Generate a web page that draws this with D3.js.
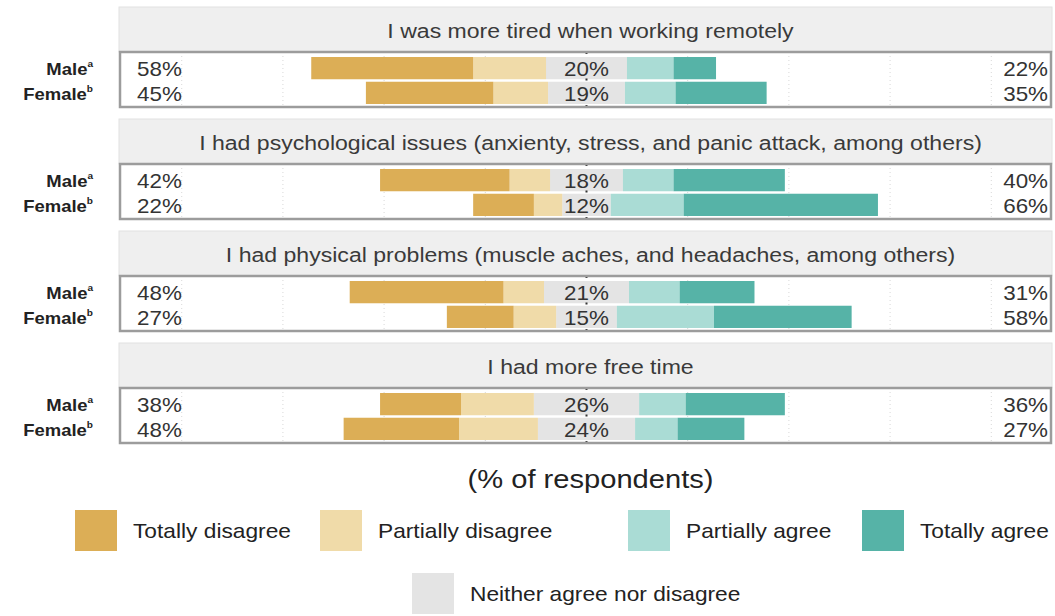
<!DOCTYPE html>
<html><head><meta charset="utf-8">
<script src="https://cdn.jsdelivr.net/npm/d3@7"></script>
<style>
html,body{margin:0;padding:0;background:#fff;}
svg{display:block;font-family:"Liberation Sans",Arial,sans-serif;}
</style></head>
<body>
<svg id="chart" width="1055" height="616"></svg>
<script>
// ---------- data ----------
const items = [
  "I was more tired when working remotely",
  "I had psychological issues (anxienty, stress, and panic attack, among others)",
  "I had physical problems (muscle aches, and headaches, among others)",
  "I had more free time"
];
const groups = ["Male", "Female"];
const groupSup = ["a", "b"];
// values ordered: item1 Male, item1 Female, item2 Male, item2 Female, ...
const totallyDisagree  = [40, 31.5, 32, 15, 38, 16.5, 20, 28.5];
const partiallyDisagree= [18, 13.5, 10, 7, 10, 10.5, 18, 19.5];
const neutral          = [20, 19, 18, 12, 21, 15, 26, 24];
const partiallyAgree   = [11.5, 12.5, 12.5, 18, 12.5, 24, 11.5, 10.5];
const totallyAgree     = [10.5, 22.5, 27.5, 48, 18.5, 34, 24.5, 16.5];
const categories = ["Totally disagree","Partially disagree","Neither agree nor disagree","Partially agree","Totally agree"];
const colors = ["#dcae56","#f0dba9","#e4e4e4","#aadcd5","#56b3a7"];
const gridTicks = [-100,-75,-50,-25,0,25,50,75,100];
const axisTitle = "(% of respondents)";

// ---------- layout ----------
const SX = 1.12; // horizontal text stretch
const svg = d3.select("#chart");
const x = d3.scaleLinear().domain([-115,115]).range([121,1052]);
const color = d3.scaleOrdinal().domain(categories).range(colors);
const panelTop = i => 7 + 112*i;
const stripH = 45, frameH = 55;

function stext(g, px, py, str, size, anchor, opts={}) {
  const t = g.append("text")
    .attr("transform", `translate(${px},${py}) scale(${SX},1)`)
    .attr("text-anchor", anchor)
    .attr("dominant-baseline", "central")
    .attr("font-size", size)
    .attr("fill", opts.fill || "#333")
    .attr("font-weight", opts.weight || "normal")
    .text(str);
  return t;
}

items.forEach((item, i) => {
  const g = svg.append("g");
  const st = panelTop(i);
  const ft = st + stripH;
  // strip
  g.append("rect").attr("x",119).attr("y",st).attr("width",933).attr("height",stripH)
    .attr("fill","#efefef").attr("stroke","#e2e2e2").attr("stroke-width",1);
  stext(g, x(0)+4, st + stripH/2 + 1, item, 20.6, "middle", {fill:"#3a3a3a"});
  // frame background
  g.append("rect").attr("x",120).attr("y",ft).attr("width",931).attr("height",frameH)
    .attr("fill","#fff");
  // grid
  g.selectAll("line.grid").data(gridTicks.filter(d=>d!==0)).join("line")
    .attr("x1",d=>x(d)).attr("x2",d=>x(d)).attr("y1",ft).attr("y2",ft+frameH)
    .attr("stroke","#d8d8d8").attr("stroke-width",1).attr("stroke-dasharray","1,3");
  const y = d3.scaleBand().domain(groups).range([ft+5, ft+52]).paddingInner(0.1);
  groups.forEach((grp, j) => {
    const k = i*2 + j;
    const vals = [totallyDisagree[k], partiallyDisagree[k], neutral[k], partiallyAgree[k], totallyAgree[k]];
    const segs = [];
    let left = -vals[2]/2;
    segs.push({c:2, x0:-vals[2]/2, x1:vals[2]/2});
    segs.push({c:1, x0:left - vals[1], x1:left});
    segs.push({c:0, x0:left - vals[1] - vals[0], x1:left - vals[1]});
    let right = vals[2]/2;
    segs.push({c:3, x0:right, x1:right + vals[3]});
    segs.push({c:4, x0:right + vals[3], x1:right + vals[3] + vals[4]});
    g.selectAll(null).data(segs).join("rect")
      .attr("x", d=>x(d.x0)).attr("width", d=>x(d.x1)-x(d.x0))
      .attr("y", y(grp)).attr("height", y.bandwidth())
      .attr("fill", d=>color(categories[d.c]));
    const cy = y(grp) + y.bandwidth()/2 + 1;
    stext(g, 137, cy, Math.round(vals[0]+vals[1]) + "%", 20, "start");
    stext(g, x(0), cy, Math.round(vals[2]) + "%", 20, "middle");
    stext(g, 1048, cy, Math.round(vals[3]+vals[4]) + "%", 20, "end");
    const lt = g.append("text")
      .attr("transform", `translate(93,${cy}) scale(${SX},1)`)
      .attr("text-anchor","end").attr("dominant-baseline","central")
      .attr("font-size",16.5).attr("font-weight","bold").attr("fill","#222");
    lt.append("tspan").text(grp);
    lt.append("tspan").attr("font-size",9).attr("dy",-6).text(groupSup[j]);
  });
  // center dotted line
  g.append("line").attr("x1",x(0)).attr("x2",x(0)).attr("y1",ft).attr("y2",ft+frameH)
    .attr("stroke","#333").attr("stroke-width",2).attr("stroke-dasharray","2,24.5").attr("stroke-linecap","butt");
  // frame border
  g.append("rect").attr("x",120).attr("y",ft).attr("width",931).attr("height",frameH)
    .attr("fill","none").attr("stroke","#9c9c9c").attr("stroke-width",2.5);
});

// axis title
stext(svg, x(0)+4, 479, axisTitle, 26, "middle", {fill:"#222"});

// legend
const legendPos = [
  {c:0, x:75, y:510},
  {c:1, x:320, y:510},
  {c:3, x:628, y:510},
  {c:4, x:862, y:510},
  {c:2, x:412, y:573}
];
const lg = svg.append("g");
lg.selectAll("rect").data(legendPos).join("rect")
  .attr("x",d=>d.x).attr("y",d=>d.y).attr("width",42).attr("height",41)
  .attr("fill",d=>color(categories[d.c]));
legendPos.forEach(d => stext(lg, d.x+58, d.y+20.5, categories[d.c], 20.3, "start", {fill:"#222"}));
</script>
</body></html>
